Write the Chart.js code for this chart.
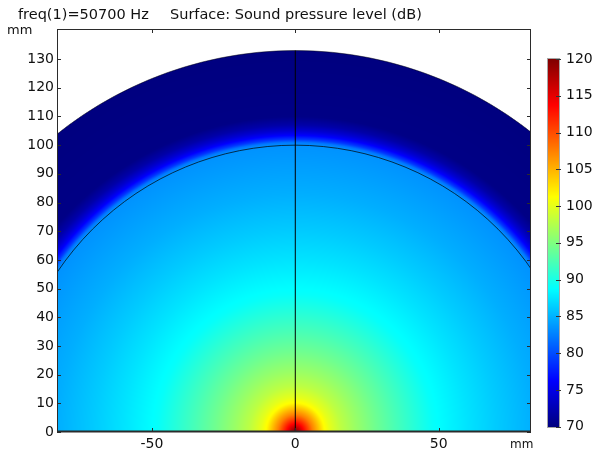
<!DOCTYPE html>
<html lang="en">
<head>
<meta charset="UTF-8">
<title>Sound pressure level</title>
<style>
    html, body {
        margin: 0;
        padding: 0;
        background: #fff;
        overflow: hidden;
    }

    #wrap {
        position: relative;
        width: 604px;
        height: 455px;
    }
</style>
</head>
<body>

<div id="wrap">
    <canvas id="splChart"></canvas>
</div>

<script src="https://cdn.jsdelivr.net/npm/chart.js@4"></script>
<script>
    const freqLabel = 'freq(1)=50700 Hz';
    const surfaceLabel = 'Surface: Sound pressure level (dB)';
    const unitLabel = 'mm';

    const xTickValues = [-50, 0, 50];
    const yTickValues = [0, 10, 20, 30, 40, 50, 60, 70, 80, 90, 100, 110, 120, 130];
    const colorTickValues = [70, 75, 80, 85, 90, 95, 100, 105, 110, 115, 120];

    // radial profile of the sound pressure level
    const radiusMm = [0, 1.5, 3, 6, 10, 12, 16, 21, 28, 35, 42, 48, 60, 70, 83, 100, 101, 102, 103.5, 105, 107, 110, 133];
    const splDb = [120, 117, 113.5, 107.5, 101.5, 100, 98, 96.3, 94.2, 92.3, 90.5, 89, 87.4, 86.2, 84.8, 83.4, 82, 79, 76, 74, 72, 70.3, 70];

    const pmlRadius = 100;
    const domainRadius = 133;

    const textColor = '#111';
    const fontFamily = '"DejaVu Sans", sans-serif';

    function clamp01(v) {
        return v < 0 ? 0 : (v > 1 ? 1 : v);
    }

    function jet(db) {
        const t = clamp01((db - 70) / 50);
        return [
            Math.round(255 * clamp01(1.5 - Math.abs(4 * t - 3))),
            Math.round(255 * clamp01(1.5 - Math.abs(4 * t - 2))),
            Math.round(255 * clamp01(1.5 - Math.abs(4 * t - 1)))
        ];
    }

    function splAt(r) {
        if (r <= radiusMm[0]) return splDb[0];
        for (let i = 1; i < radiusMm.length; i++) {
            if (r <= radiusMm[i]) {
                const f = (r - radiusMm[i - 1]) / (radiusMm[i] - radiusMm[i - 1]);
                return splDb[i - 1] + f * (splDb[i] - splDb[i - 1]);
            }
        }
        return splDb[splDb.length - 1];
    }

    function fixedTicks(values) {
        return function(scale) {
            scale.ticks = values.map(v => ({ value: v }));
        };
    }

    function fitTo(prop, size) {
        return function(scale) {
            scale[prop] = size;
            scale.paddingTop = 0;
            scale.paddingBottom = 0;
            scale.paddingLeft = 0;
            scale.paddingRight = 0;
        };
    }

    const fieldPlugin = {
        id: 'field',
        beforeDatasetsDraw(chart) {
            const { ctx, chartArea } = chart;
            const xs = chart.scales.x;
            const ys = chart.scales.y;
            const w = Math.round(chartArea.right - chartArea.left);
            const h = Math.round(chartArea.bottom - chartArea.top);
            const pxPerMm = xs.getPixelForValue(1) - xs.getPixelForValue(0);

            const off = document.createElement('canvas');
            off.width = w;
            off.height = h;
            const octx = off.getContext('2d');
            const img = octx.createImageData(w, h);
            const xv = [];
            for (let i = 0; i < w; i++) xv.push(xs.getValueForPixel(chartArea.left + i + 0.5));
            for (let j = 0; j < h; j++) {
                const yv = ys.getValueForPixel(chartArea.top + j + 0.5);
                for (let i = 0; i < w; i++) {
                    const r = Math.hypot(xv[i], yv);
                    const a = clamp01((domainRadius - r) * pxPerMm + 0.5);
                    if (a <= 0) continue;
                    const c = jet(splAt(r));
                    const k = (j * w + i) * 4;
                    img.data[k] = c[0];
                    img.data[k + 1] = c[1];
                    img.data[k + 2] = c[2];
                    img.data[k + 3] = Math.round(a * 255);
                }
            }
            octx.putImageData(img, 0, 0);
            ctx.drawImage(off, chartArea.left, chartArea.top);

            // geometry lines
            const cx = xs.getPixelForValue(0);
            const cy = ys.getPixelForValue(0);
            const sx = xs.getPixelForValue(1) - cx;
            const sy = cy - ys.getPixelForValue(1);
            ctx.save();
            ctx.beginPath();
            ctx.rect(chartArea.left, chartArea.top, chartArea.right - chartArea.left, chartArea.bottom - chartArea.top);
            ctx.clip();

            ctx.lineWidth = 1;
            ctx.strokeStyle = 'rgba(0,0,0,0.45)';
            ctx.beginPath();
            ctx.ellipse(cx, cy, domainRadius * sx, domainRadius * sy, 0, Math.PI, 2 * Math.PI);
            ctx.stroke();

            ctx.strokeStyle = 'rgba(0,0,0,0.7)';
            ctx.beginPath();
            ctx.ellipse(cx, cy, pmlRadius * sx, pmlRadius * sy, 0, Math.PI, 2 * Math.PI);
            ctx.stroke();

            ctx.strokeStyle = '#000';
            ctx.beginPath();
            ctx.moveTo(cx, cy);
            ctx.lineTo(cx, ys.getPixelForValue(domainRadius));
            ctx.stroke();
            ctx.restore();
        },
        afterDraw(chart) {
            const { ctx, chartArea } = chart;
            const xs = chart.scales.x;
            const ys = chart.scales.y;
            const cb = chart.scales.cb;
            const L = chartArea.left, R = chartArea.right, T = chartArea.top, B = chartArea.bottom;

            // frame and inward ticks
            ctx.save();
            ctx.strokeStyle = '#2b2b2b';
            ctx.lineWidth = 1;
            ctx.strokeRect(L + 0.5, T + 0.5, R - L - 1, B - T - 1);
            ctx.beginPath();
            xTickValues.forEach(v => {
                const p = Math.round(xs.getPixelForValue(v)) + 0.5;
                ctx.moveTo(p, B); ctx.lineTo(p, B - 4);
                ctx.moveTo(p, T); ctx.lineTo(p, T + 4);
            });
            yTickValues.forEach(v => {
                const p = Math.round(ys.getPixelForValue(v)) + 0.5;
                ctx.moveTo(L, p); ctx.lineTo(L + 4, p);
                ctx.moveTo(R, p); ctx.lineTo(R - 4, p);
            });
            ctx.stroke();
            ctx.lineWidth = 2;
            ctx.beginPath();
            ctx.moveTo(L, B - 0.5); ctx.lineTo(R, B - 0.5);
            ctx.stroke();

            // colour bar
            const barL = cb.left + 17;
            const barW = 11;
            const top = Math.round(cb.getPixelForValue(120));
            const bottom = Math.round(cb.getPixelForValue(70));
            for (let y = top; y < bottom; y++) {
                const c = jet(cb.getValueForPixel(y + 0.5));
                ctx.fillStyle = 'rgb(' + c.join(',') + ')';
                ctx.fillRect(barL, y, barW, 1);
            }
            ctx.strokeStyle = 'rgba(0,0,0,0.35)';
            ctx.lineWidth = 1;
            ctx.strokeRect(barL - 0.5, top - 0.5, barW + 1, bottom - top + 1);
            ctx.strokeStyle = '#333';
            ctx.beginPath();
            colorTickValues.forEach(v => {
                const p = Math.round(cb.getPixelForValue(v)) + 0.5;
                ctx.moveTo(barL + barW - 3, p); ctx.lineTo(barL + barW + 2, p);
            });
            ctx.stroke();

            // texts
            ctx.fillStyle = textColor;
            ctx.textBaseline = 'middle';
            ctx.textAlign = 'left';
            ctx.font = '14.5px ' + fontFamily;
            ctx.fillText(freqLabel, 18, 15);
            ctx.fillText(surfaceLabel, 170, 15);
            ctx.font = '13px ' + fontFamily;
            ctx.fillText(unitLabel, 7, 31);
            ctx.font = '12px ' + fontFamily;
            ctx.fillText(unitLabel, 510, 445);
            ctx.restore();
        }
    };

    const tickFont = { family: fontFamily, size: 14 };

    new Chart(document.getElementById('splChart'), {
        type: 'scatter',
        data: { datasets: [] },
        options: {
            responsive: true,
            maintainAspectRatio: false,
            animation: false,
            layout: { padding: { top: 29, left: 0, right: 0, bottom: 0 } },
            plugins: {
                legend: { display: false },
                tooltip: { enabled: false },
                title: { display: false }
            },
            scales: {
                x: {
                    type: 'linear',
                    display: true,
                    position: 'bottom',
                    min: -83.1,
                    max: 82.2,
                    afterBuildTicks: fixedTicks(xTickValues),
                    afterFit: fitTo('height', 23),
                    grid: { display: false, drawTicks: false },
                    border: { display: false },
                    ticks: { color: textColor, font: tickFont, padding: 4, maxRotation: 0 }
                },
                y: {
                    type: 'linear',
                    display: true,
                    position: 'left',
                    min: 0,
                    max: 140.5,
                    afterBuildTicks: fixedTicks(yTickValues),
                    afterFit: fitTo('width', 57),
                    grid: { display: false, drawTicks: false },
                    border: { display: false },
                    ticks: { color: textColor, font: tickFont, padding: 3 }
                },
                cb: {
                    type: 'linear',
                    display: true,
                    position: 'right',
                    min: 69.28,
                    max: 124.08,
                    afterBuildTicks: fixedTicks(colorTickValues),
                    afterFit: fitTo('width', 73),
                    grid: { display: false, drawTicks: false },
                    border: { display: false },
                    ticks: { color: textColor, font: tickFont, padding: 35 }
                }
            }
        },
        plugins: [fieldPlugin]
    });
</script>

</body>
</html>
